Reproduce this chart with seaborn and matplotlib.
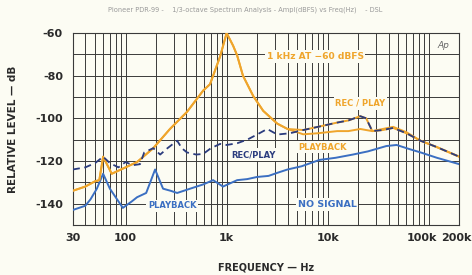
import numpy as np
import pandas as pd
import seaborn as sns
import matplotlib.pyplot as plt
import matplotlib.transforms as mtrans

# --- data ---
# no signal, playback (blue solid)
freq_noise_pb = [30, 40, 45, 52, 60, 70, 94, 115, 130, 160, 196, 235, 280, 324, 435, 586,
                 735, 920, 1270, 1600, 2000, 2600, 3200, 4000, 5500, 8300, 12000, 17700,
                 25000, 38000, 48000, 65000, 83000, 120000, 200000]
lvl_noise_pb = [-143, -141, -138, -133, -126, -133, -142, -139, -137, -135, -124, -133, -134,
                -135, -133, -131, -129, -132, -129, -128.5, -127.5, -127, -125.5, -124, -122.5,
                -119.5, -118.5, -117, -115.5, -113, -112.5, -114.5, -116, -118.5, -121.5]

# no signal, rec/play (navy dashed)
freq_noise_rp = [30, 40, 50, 60, 70, 85, 100, 118, 139, 153, 188, 220, 260, 324, 360, 405,
                 500, 586, 700, 862, 1000, 1270, 1600, 2000, 2520, 3170, 4240]
lvl_noise_rp = [-124, -123, -121, -118, -121, -123, -120.5, -122, -121.5, -116, -114, -117,
                -114, -110.5, -114, -116, -117, -116.7, -114, -112, -112.5, -111.7, -110,
                -107.6, -105, -107.6, -107]

# 1 kHz at -60 dBFS, up to 4 kHz (both modes overlap here)
freq_tone = [30, 40, 50, 55, 60, 73, 100, 130, 188, 275, 405, 586, 685, 862, 1000,
             1160, 1270, 1450, 1830, 2300, 3170, 4000]
lvl_tone = [-134, -132, -129.5, -129, -118, -126, -123, -120.5, -114, -105, -97, -87,
            -84, -71, -60, -66, -70.5, -80, -89.5, -96.5, -102.5, -105]

# high-frequency tails above 4 kHz
freq_tail = [4240, 5720, 8000, 12400, 16000, 21000, 24000, 27600, 35000, 44300, 60000,
             82700, 120000, 200000]
lvl_tail_pb = [-106, -107.5, -107, -106, -106, -105, -105.5, -106, -105, -104, -106.5,
               -110.5, -113.5, -118]
lvl_tail_rp = [-107, -105.5, -104, -102, -101, -99, -100, -106, -105.5, -104.5, -107,
               -110.5, -113.5, -118]

x_tick_vals = [30, 100, 1000, 10000, 100000, 200000]
x_tick_labels = ['30', '100', '1k', '10k', '100k', '200k']
y_tick_vals = [-60, -80, -100, -120, -140]

ORANGE = '#efa52c'
BLUE = '#3b6fc2'
NAVY = '#2b3c7e'
BG = '#fcfcf3'
INK = '#2a2a2a'
GRID = '#3a3a3a'

sns.set_theme(style="white")
plt.rcParams['font.family'] = ['DejaVu Sans']

fig = plt.figure(figsize=(4.72, 2.75), dpi=100, facecolor=BG)
ax = fig.add_axes([0.154, 0.182, 0.819, 0.698])
ax.set_facecolor(BG)

tone_pb = pd.DataFrame({'f': freq_tone + freq_tail[1:], 'dB': lvl_tone + lvl_tail_pb[1:]})
tone_rp = pd.DataFrame({'f': freq_tone + freq_tail[1:], 'dB': lvl_tone + lvl_tail_rp[1:]})
noise_pb = pd.DataFrame({'f': freq_noise_pb, 'dB': lvl_noise_pb})
noise_rp = pd.DataFrame({'f': freq_noise_rp + freq_tail[1:], 'dB': lvl_noise_rp + lvl_tail_rp[1:]})

sns.lineplot(data=noise_pb, x='f', y='dB', ax=ax, color=BLUE, lw=1.4, zorder=3)
sns.lineplot(data=tone_rp, x='f', y='dB', ax=ax, color=ORANGE, lw=1.4, zorder=4)
sns.lineplot(data=tone_pb, x='f', y='dB', ax=ax, color=ORANGE, lw=1.4, zorder=4)
sns.lineplot(data=noise_rp, x='f', y='dB', ax=ax, color=NAVY, lw=1.3, zorder=5,
             linestyle=(0, (4, 2.5)))

ax.set_xscale('log')
ax.set_xlim(30, 200000)
ax.set_ylim(-150, -60)

# grid: every 1..9 per decade, every 10 dB
grid_x = [m * 10 ** d for d in range(1, 6) for m in range(1, 10)]
grid_x = [g for g in grid_x if 30 <= g <= 200000]
for g in grid_x:
    ax.axvline(g, color=GRID, lw=0.7, zorder=1)
for g in range(-150, -59, 10):
    ax.axhline(g, color=GRID, lw=0.7, zorder=1)

ax.set_xticks(x_tick_vals)
ax.set_xticklabels(x_tick_labels)
ax.xaxis.set_minor_locator(plt.NullLocator())
ax.set_yticks(y_tick_vals)
ax.set_yticklabels([str(v) for v in y_tick_vals])
ax.tick_params(axis='both', length=0, labelsize=8, colors=INK)
ax.tick_params(axis='x', pad=6)
ax.tick_params(axis='y', pad=7)
for lab in ax.get_xticklabels() + ax.get_yticklabels():
    lab.set_fontweight('semibold')
# nudge the two crowded labels on the right, as in the original
xlabs = ax.get_xticklabels()
for lab, dx in [(xlabs[-2], -7), (xlabs[-1], -3)]:
    lab.set_transform(lab.get_transform() + mtrans.ScaledTranslation(dx / 100, 0, fig.dpi_scale_trans))

for s in ax.spines.values():
    s.set_color(GRID)
    s.set_linewidth(0.8)

ax.set_xlabel('FREQUENCY — Hz', fontsize=7, color=INK, fontweight='semibold', labelpad=14)
ax.set_ylabel('RELATIVE LEVEL — dB', fontsize=7.5, color=INK, fontweight='semibold', labelpad=12)

box = dict(facecolor=BG, edgecolor='none', pad=1.2)
ax.text(7500, -71, '1 kHz AT −60 dBFS', color=ORANGE, fontsize=6.6, fontweight='bold',
        ha='center', va='center', bbox=box, zorder=6)
ax.text(21000, -93, 'REC / PLAY', color=ORANGE, fontsize=6, fontweight='bold',
        ha='center', va='center', bbox=box, zorder=6)
ax.text(8800, -113.5, 'PLAYBACK', color=ORANGE, fontsize=6, fontweight='bold',
        ha='center', va='center', bbox=box, zorder=6)
ax.text(1840, -117, 'REC/PLAY', color=NAVY, fontsize=6, fontweight='bold',
        ha='center', va='center', bbox=box, zorder=6)
ax.text(290, -141, 'PLAYBACK', color=BLUE, fontsize=6, fontweight='bold',
        ha='center', va='center', bbox=box, zorder=6)
ax.text(9900, -140.5, 'NO SIGNAL', color=BLUE, fontsize=6.8, fontweight='bold',
        ha='center', va='center', bbox=box, zorder=6)
ax.text(0.975, 0.96, 'Ap', transform=ax.transAxes, color='#666666', fontsize=6.5,
        fontstyle='italic', ha='right', va='top', bbox=box, zorder=6)

fig.text(0.52, 0.975, 'Pioneer PDR-99 -    1/3-octave Spectrum Analysis - Ampl(dBFS) vs Freq(Hz)    - DSL',
         ha='center', va='top', fontsize=4.8, color='#9a9a9a')

fig.savefig('out.png', dpi=100, facecolor=BG)
